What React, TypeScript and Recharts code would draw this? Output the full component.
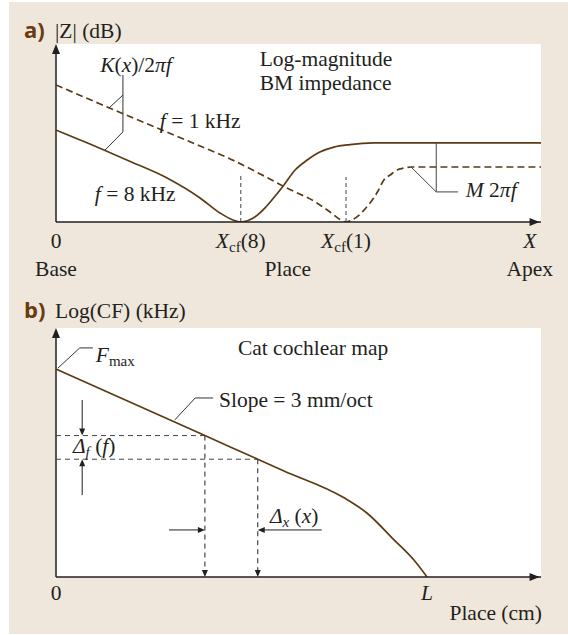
import React from 'react';
import { LineChart, Line, XAxis, YAxis, ReferenceLine, ReferenceDot, CartesianGrid } from 'recharts';

const INK = '#231f20';
const BROWN = '#5c3a12';
const TAG = '#6b3a0e';
const BG = '#efe7dc';
const GUIDE = '#444';
const SERIF = '"Liberation Serif", "Times New Roman", serif';
const SANS = '"Open Sans", "Noto Sans", sans-serif';
const FS = 21.5;

// ---------- Panel a: log-magnitude BM impedance ----------
const place8k = [0, 7.0, 14.6, 22.9, 29.7, 33.8, 36.5, 38.1, 41.0, 43.1, 45.2, 47.0, 49.3, 51.8, 54.4, 57.3, 60.6, 65.6, 100];
const imp8k = [51.7, 43.8, 34.8, 24.7, 13.5, 5.1, 1.1, 0, 2.8, 7.9, 14.6, 20.8, 29.2, 34.8, 39.3, 42.1, 43.5, 44.4, 44.4];
const place1k = [0, 9.1, 19.4, 29.7, 35.5, 42.1, 47.6, 53.8, 56.5, 58.4, 59.8, 61.0, 62.5, 63.7, 64.9, 66.4, 67.6, 68.9, 70.3, 71.8, 73.2, 100];
const imp1k = [77.0, 66.3, 54.5, 42.7, 36.0, 27.0, 19.1, 10.7, 5.6, 1.7, 0, 1.1, 3.9, 7.3, 11.2, 17.4, 23.6, 26.4, 29.2, 30.3, 30.9, 30.9];
const cf8Place = 38.1;
const cf1Place = 59.8;
const xTicksA = [0, cf8Place, cf1Place, 97.7];
const xTickNamesA = ['0', 'X', 'X', 'X'];
const xTickSubsA = ['', 'cf', 'cf', ''];
const xTickArgsA = ['', '(8)', '(1)', ''];
const xRegionsA = ['Base', '', '', 'Apex'];

// ---------- Panel b: cat cochlear map ----------
const placeB = [0, 30.7, 41.6, 47.0, 59.4, 64.1, 69.7, 73.8, 76.5];
const logCF = [83.5, 56.8, 47.3, 42.6, 31.8, 25.7, 14.9, 6.8, 0];
const xTicksB = [0, 76.5];
const xTickNamesB = ['0', 'L'];

const zip = (xs: number[], ys: number[]) => xs.map((x, i) => ({ x, y: ys[i] }));
const data8k = zip(place8k, imp8k);
const data1k = zip(place1k, imp1k);
const dataB = zip(placeB, logCF);
const mark1 = { x: placeB[1], y: logCF[1] };
const mark2 = { x: placeB[2], y: logCF[2] };

const it = (s: string) => <tspan fontStyle="italic">{s}</tspan>;
const sub = (s: string, italic = false) => (
  <tspan fontSize={15} dy={4} fontStyle={italic ? 'italic' : 'normal'}>{s}</tspan>
);

const textShape = (content: React.ReactNode, o: { anchor?: string; size?: number; family?: string; weight?: any; fill?: string } = {}) =>
  (p: any) => (
    <text x={p.cx} y={p.cy} textAnchor={o.anchor ?? 'start'} fontSize={o.size ?? FS}
      fontFamily={o.family ?? SERIF} fontWeight={o.weight ?? 'normal'} fill={o.fill ?? INK}>
      {content}
    </text>
  );

const arrow = (dir: 'up' | 'down' | 'left' | 'right', len = 10, hw = 4) => (p: any) => {
  const { cx, cy } = p;
  let pts = '';
  if (dir === 'up') pts = `${cx},${cy} ${cx - hw},${cy + len} ${cx + hw},${cy + len}`;
  if (dir === 'down') pts = `${cx},${cy} ${cx - hw},${cy - len} ${cx + hw},${cy - len}`;
  if (dir === 'right') pts = `${cx},${cy} ${cx - len},${cy - hw} ${cx - len},${cy + hw}`;
  if (dir === 'left') pts = `${cx},${cy} ${cx + len},${cy - hw} ${cx + len},${cy + hw}`;
  return <polygon points={pts} fill={INK} />;
};

const TickA = (props: any) => {
  const { x, y, payload } = props;
  const i = xTicksA.indexOf(payload.value);
  if (i < 0) return null;
  const name = xTickNamesA[i];
  return (
    <g>
      <text x={x} y={y + 26} textAnchor="middle" fontFamily={SERIF} fontSize={FS} fill={INK}>
        {name === '0' ? '0' : it(name)}
        {xTickSubsA[i] ? sub(xTickSubsA[i]) : null}
        {xTickArgsA[i] ? <tspan dy={-4}>{xTickArgsA[i]}</tspan> : null}
      </text>
      {xRegionsA[i] ? (
        <text x={x} y={y + 54} textAnchor="middle" fontFamily={SERIF} fontSize={FS} fill={INK}>{xRegionsA[i]}</text>
      ) : null}
    </g>
  );
};

const TickB = (props: any) => {
  const { x, y, payload } = props;
  const i = xTicksB.indexOf(payload.value);
  if (i < 0) return null;
  const name = xTickNamesB[i];
  return (
    <text x={x} y={y + 23} textAnchor="middle" fontFamily={SERIF} fontSize={FS} fill={INK}>
      {name === '0' ? '0' : it(name)}
    </text>
  );
};

const seg = (x1: number, y1: number, x2: number, y2: number, stroke = '#333', w = 1, dash?: string) => (
  <ReferenceLine segment={[{ x: x1, y: y1 }, { x: x2, y: y2 }]} stroke={stroke} strokeWidth={w}
    strokeDasharray={dash} ifOverflow="visible" />
);

export default function App() {
  return (
    <div style={{ position: 'absolute', left: 0, top: 0, width: 568, height: 635 }}>
      <div style={{ position: 'absolute', left: 9, top: 2, width: 559, height: 632, background: BG }} />

      <div style={{ position: 'absolute', left: 0, top: 0 }}>
        <LineChart width={568} height={300} margin={{ top: 44, right: 27, bottom: 18, left: 56 }}>
          <CartesianGrid horizontal={false} vertical={false} fill="#fff" fillOpacity={1} stroke="none" />
          <XAxis type="number" dataKey="x" domain={[0, 100]} ticks={xTicksA} interval={0} tickLine={false}
            tickSize={0} tickMargin={0} axisLine={{ stroke: INK, strokeWidth: 1.5 }} height={60} tick={<TickA />} allowDataOverflow />
          <YAxis type="number" domain={[0, 100]} hide allowDataOverflow />

          {seg(0, 0, 0, 97, INK, 1.5)}
          <ReferenceDot x={0} y={100} r={0} shape={arrow('up')} ifOverflow="visible" />
          <ReferenceDot x={99.7} y={0} r={0} shape={arrow('right')} ifOverflow="visible" />

          {seg(cf8Place, 0, cf8Place, 26.4, GUIDE, 1, '4 3')}
          {seg(cf1Place, 0, cf1Place, 25.3, GUIDE, 1, '4 3')}

          <Line data={data8k} dataKey="y" type="monotone" stroke={BROWN} strokeWidth={1.7} dot={false} isAnimationActive={false} />
          <Line data={data1k} dataKey="y" type="monotone" stroke={BROWN} strokeWidth={1.7} strokeDasharray="7 4" dot={false} isAnimationActive={false} />

          {/* K(x)/2πf leader */}
          {seg(13.8, 82.6, 13.8, 50.6, '#333', 1)}
          {seg(13.8, 71.3, 10.9, 64.0, '#333', 1)}
          {seg(13.8, 50.6, 10.1, 40.4, '#333', 1)}
          {/* M2πf leader */}
          {seg(78.4, 44.4, 78.4, 16.9, '#444', 1)}
          {seg(73.2, 30.9, 78.4, 16.9, '#444', 1)}
          {seg(78.4, 16.9, 82.9, 16.9, '#444', 1)}

          <ReferenceDot x={-6.6} y={103.4} r={0} ifOverflow="visible"
            shape={textShape('a)', { family: SANS, weight: 700, size: 22, fill: TAG })} />
          <ReferenceDot x={-0.2} y={103.4} r={0} ifOverflow="visible" shape={textShape('|Z| (dB)')} />
          <ReferenceDot x={9.1} y={84.3} r={0} ifOverflow="visible"
            shape={textShape(<>{it('K')}({it('x')})/2{it('πf')}</>)} />
          <ReferenceDot x={21.4} y={52.8} r={0} ifOverflow="visible"
            shape={textShape(<>{it('f')} = 1 kHz</>)} />
          <ReferenceDot x={8.0} y={11.8} r={0} ifOverflow="visible"
            shape={textShape(<>{it('f')} = 8 kHz</>)} />
          <ReferenceDot x={42.0} y={87.6} r={0} ifOverflow="visible" shape={textShape('Log-magnitude')} />
          <ReferenceDot x={42.0} y={74.3} r={0} ifOverflow="visible" shape={textShape('BM impedance')} />
          <ReferenceDot x={84.5} y={14.0} r={0} ifOverflow="visible"
            shape={textShape(<>{it('M')} 2{it('πf')}</>)} />
          <ReferenceDot x={47.8} y={-30.3} r={0} ifOverflow="visible" shape={textShape('Place', { anchor: 'middle' })} />
        </LineChart>
      </div>

      <div style={{ position: 'absolute', left: 0, top: 290 }}>
        <LineChart width={568} height={345} margin={{ top: 38, right: 27, bottom: 8, left: 56 }}>
          <CartesianGrid horizontal={false} vertical={false} fill="#fff" fillOpacity={1} stroke="none" />
          <XAxis type="number" dataKey="x" domain={[0, 100]} ticks={xTicksB} interval={0} tickLine={false}
            tickSize={0} tickMargin={0} axisLine={{ stroke: INK, strokeWidth: 1.5 }} height={50} tick={<TickB />} allowDataOverflow />
          <YAxis type="number" domain={[0, 100]} hide allowDataOverflow />

          {seg(0, 0, 0, 97, INK, 1.5)}
          <ReferenceDot x={0} y={100} r={0} shape={arrow('up')} ifOverflow="visible" />
          <ReferenceDot x={99.7} y={0} r={0} shape={arrow('right')} ifOverflow="visible" />

          {/* guides */}
          {seg(0, mark1.y, mark1.x, mark1.y, GUIDE, 1, '5 4')}
          {seg(0, mark2.y, mark2.x, mark2.y, GUIDE, 1, '5 4')}
          {seg(mark1.x, mark1.y, mark1.x, 2.5, INK, 1, '5 4')}
          {seg(mark2.x, mark2.y, mark2.x, 2.5, INK, 1, '5 4')}
          <ReferenceDot x={mark1.x} y={0} r={0} shape={arrow('down', 7, 3)} ifOverflow="visible" />
          <ReferenceDot x={mark2.x} y={0} r={0} shape={arrow('down', 7, 3)} ifOverflow="visible" />

          {/* Δf arrows */}
          {seg(5.4, 71.1, 5.4, 59.0, INK, 1)}
          <ReferenceDot x={5.4} y={mark1.y} r={0} shape={arrow('down', 7, 3)} ifOverflow="visible" />
          {seg(5.4, 32.9, 5.4, 45.0, INK, 1)}
          <ReferenceDot x={5.4} y={mark2.y} r={0} shape={arrow('up', 7, 3)} ifOverflow="visible" />
          {/* Δx arrows */}
          {seg(23.3, 18.9, 29.5, 18.9, INK, 1)}
          <ReferenceDot x={mark1.x} y={18.9} r={0} shape={arrow('right', 7, 3)} ifOverflow="visible" />
          {seg(54.8, 18.9, 42.8, 18.9, INK, 1)}
          <ReferenceDot x={mark2.x} y={18.9} r={0} shape={arrow('left', 7, 3)} ifOverflow="visible" />

          <Line data={dataB} dataKey="y" type="monotone" stroke={BROWN} strokeWidth={1.7} dot={false} isAnimationActive={false} />

          {/* leaders */}
          {seg(0.4, 83.9, 4.9, 92.0, '#333', 1)}
          {seg(4.9, 92.0, 7.6, 92.0, '#333', 1)}
          {seg(24.5, 63.1, 28.7, 71.9, '#333', 1)}
          {seg(28.7, 71.9, 32.4, 71.9, '#333', 1)}

          <ReferenceDot x={-6.6} y={104.0} r={0} ifOverflow="visible"
            shape={textShape('b)', { family: SANS, weight: 700, size: 22, fill: TAG })} />
          <ReferenceDot x={-0.2} y={104.0} r={0} ifOverflow="visible" shape={textShape('Log(CF) (kHz)')} />
          <ReferenceDot x={8.2} y={86.3} r={0} ifOverflow="visible"
            shape={textShape(<>{it('F')}{sub('max')}</>)} />
          <ReferenceDot x={37.5} y={89.2} r={0} ifOverflow="visible" shape={textShape('Cat cochlear map')} />
          <ReferenceDot x={33.6} y={68.3} r={0} ifOverflow="visible" shape={textShape('Slope = 3 mm/oct')} />
          <ReferenceDot x={3.5} y={49.8} r={0} ifOverflow="visible"
            shape={textShape(<>{it('Δ')}{sub('f', true)}<tspan dy={-4}> (</tspan>{it('f')})</>)} />
          <ReferenceDot x={44.1} y={21.7} r={0} ifOverflow="visible"
            shape={textShape(<>{it('Δ')}{sub('x', true)}<tspan dy={-4}> (</tspan>{it('x')})</>)} />
          <ReferenceDot x={100.2} y={-17.3} r={0} ifOverflow="visible" shape={textShape('Place (cm)', { anchor: 'end' })} />
        </LineChart>
      </div>
    </div>
  );
}
